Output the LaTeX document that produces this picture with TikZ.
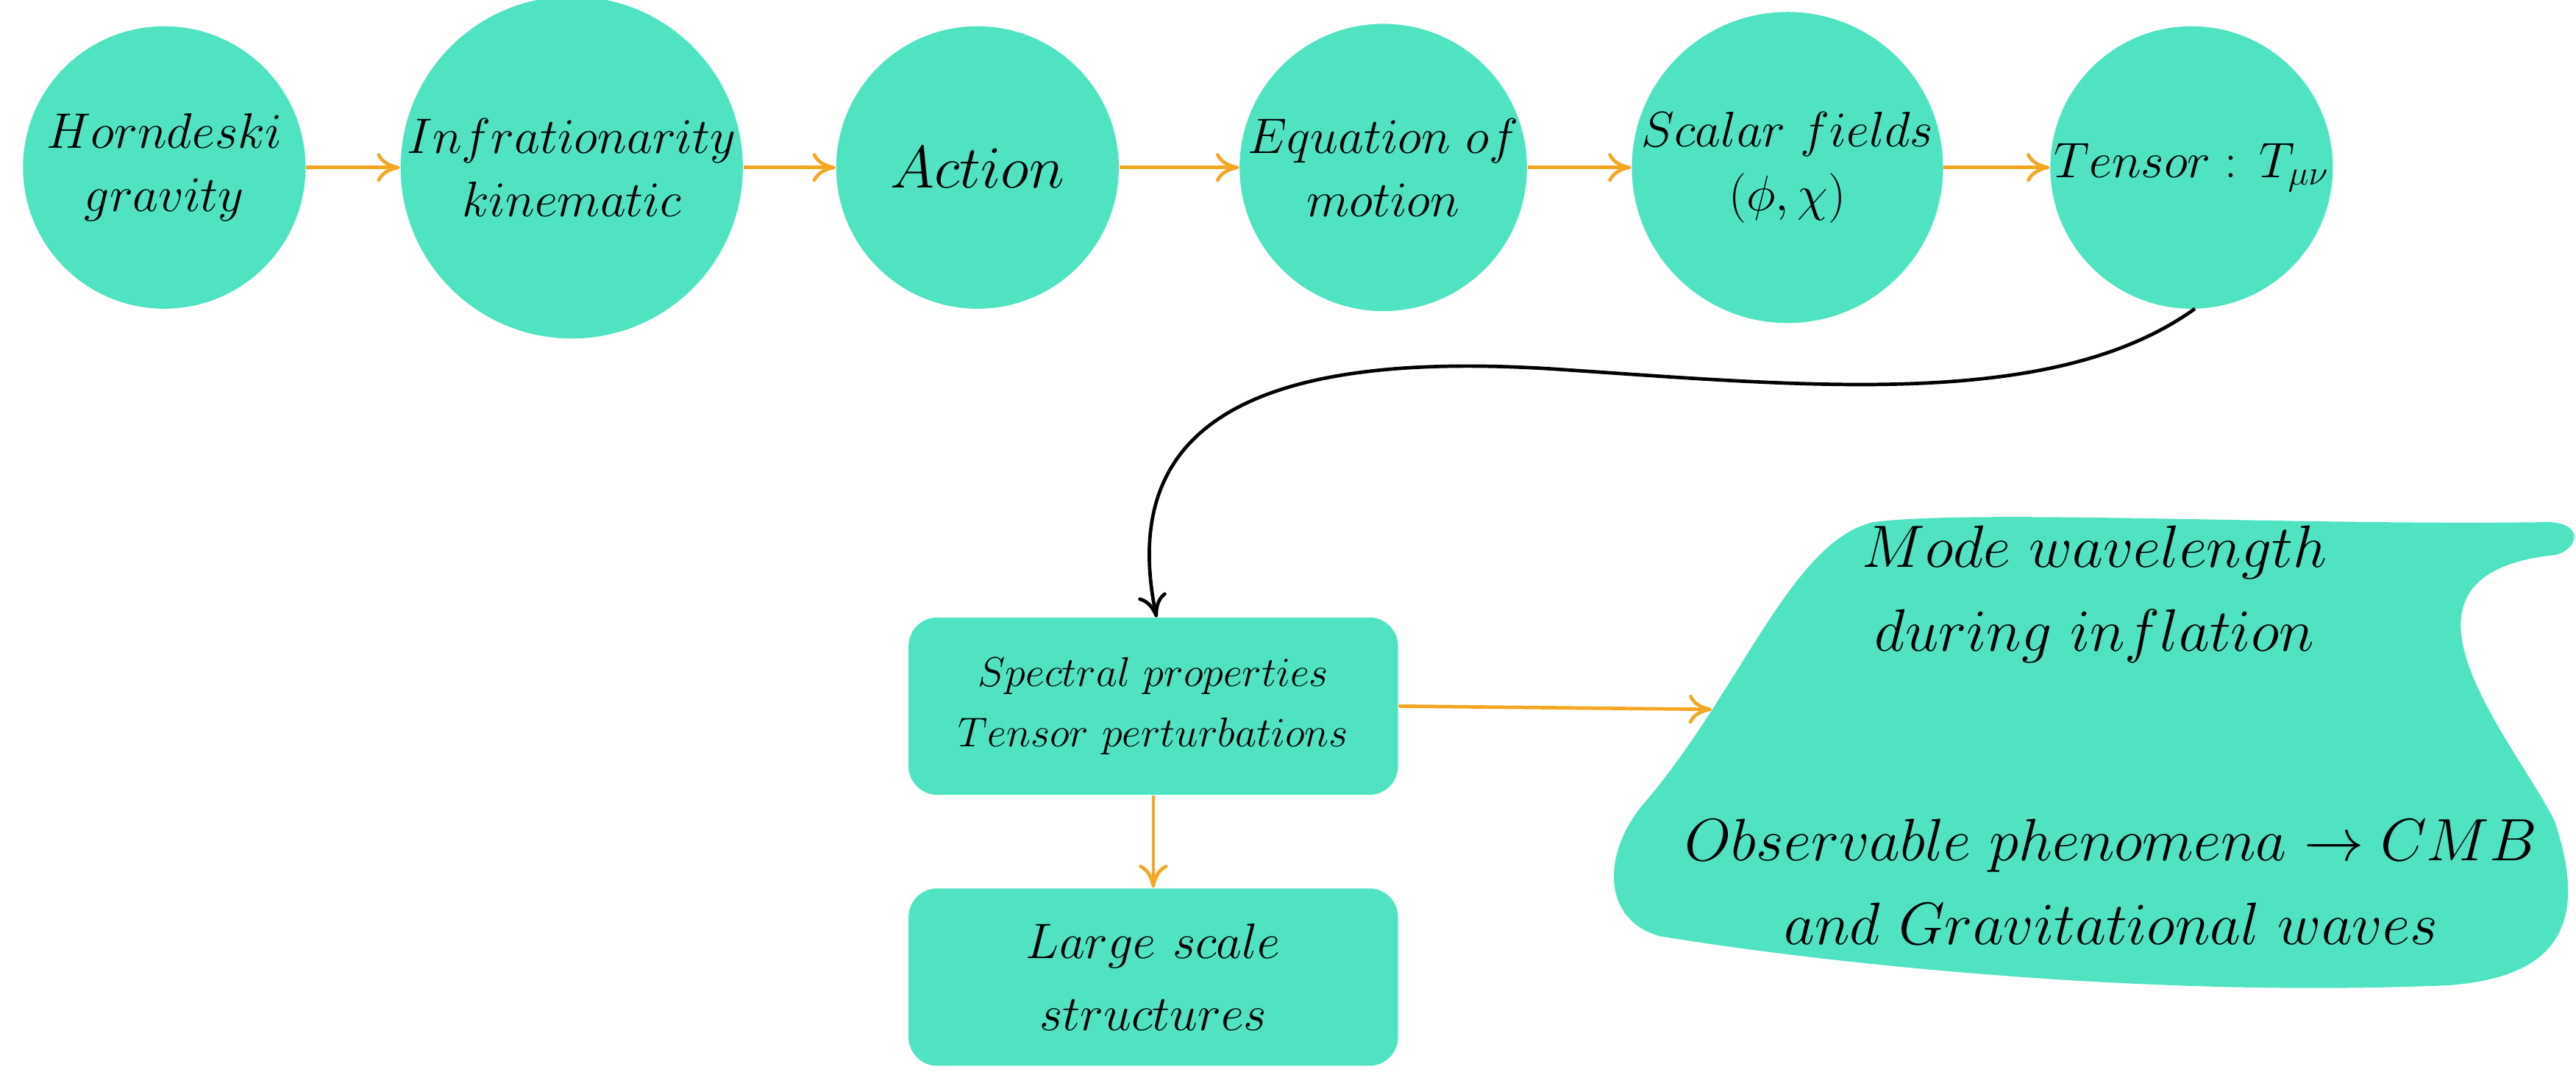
\documentclass[tikz,border=0pt]{standalone}
\usetikzlibrary{arrows.meta}
\definecolor{tq}{HTML}{50E3C2}
\definecolor{org}{HTML}{F5A623}
\begin{document}
\begin{tikzpicture}[x=0.02cm,y=-0.02cm,
  circ/.style={circle,fill=tq,minimum size=172*0.02cm,inner sep=0pt,align=center,font=\fontsize{17}{22}\selectfont},
  box/.style={rounded corners=0.35cm,fill=tq,minimum width=298*0.02cm,minimum height=108*0.02cm,align=center},
  oarr/.style={org,line width=1.2pt,-{To[length=8pt,width=10pt]}},
  barr/.style={black,line width=1.2pt,-{To[length=8pt,width=10pt]}}]
\useasboundingbox (0,0) rectangle (1568,661);
\node[circ] (c1) at (100,102) {$Horndeski$\\$gravity$};
\node[circ] (c2) at (348,102) {$Infrationarity$\\$kinematic$};
\node[circ,font=\fontsize{21}{24}\selectfont] (c3) at (595,102) {$Action$};
\node[circ] (c4) at (842,102) {$Equation\ of$\\$motion$};
\node[circ] (c5) at (1088,102) {$Scalar\ fields$\\$(\phi,\chi)$};
\node[circ] (c6) at (1334,102) {$Tensor:\,T_{\mu\nu}$};
\foreach \a/\b in {c1/c2,c2/c3,c3/c4,c4/c5,c5/c6} \draw[oarr] (\a) -- (\b);
\node[box,font=\fontsize{15}{21}\selectfont] (sp) at (702,430) {$Spectral\ properties$\\$Tensor\ perturbations$};
\node[box,font=\fontsize{19}{25}\selectfont] (ls) at (702,595) {$Large\ scale$\\$structures$};
\fill[tq] (1140,318) .. controls (1200,310) and (1400,320) .. (1545,318)
  .. controls (1575,316) and (1570,335) .. (1555,338)
  .. controls (1440,350) and (1530,450) .. (1555,500)
  .. controls (1575,560) and (1560,595) .. (1490,600)
  .. controls (1300,608) and (1100,585) .. (1010,570)
  .. controls (975,560) and (975,520) .. (1000,490)
  .. controls (1060,420) and (1090,330) .. (1140,318) -- cycle;
\node[font=\fontsize{21}{29}\selectfont,align=center] (m) at (1275,362) {$Mode\ wavelength$\\$during\ inflation$};
\node[font=\fontsize{21}{29}\selectfont,align=center] (o) at (1285,537) {$Observable\ phenomena\rightarrow CMB$\\$and\ Gravitational\ waves$};
\coordinate (bl) at (1042,432);
\draw[oarr] (sp.east) -- (bl);
\draw[oarr] (sp) -- (ls);
\coordinate (t6) at (1336,188);
\draw[barr] (t6) .. controls (1250,250) and (1100,235) .. (950,225)
  .. controls (760,212) and (680,260) .. (704,376);
\end{tikzpicture}
\end{document}
